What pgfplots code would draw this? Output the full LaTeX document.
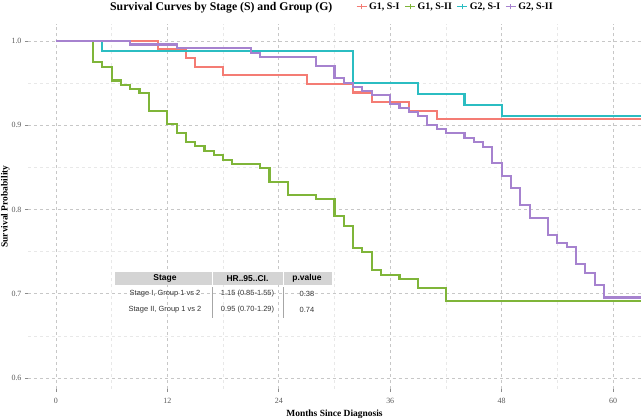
\documentclass[border=0pt]{standalone}
\usepackage{pgfplots}
\pgfplotsset{compat=1.18}
\usepackage{fontspec}
\setmainfont{Liberation Serif}
\newfontfamily\arial{Liberation Sans}
\definecolor{cRed}{HTML}{F47C74}
\definecolor{cGreen}{HTML}{7FB539}
\definecolor{cCyan}{HTML}{2BBDC2}
\definecolor{cPurple}{HTML}{A682CF}
\definecolor{hdr}{HTML}{D4D4D4}
\begin{document}
\begin{tikzpicture}[x=1bp,y=1bp]
\begin{axis}[
  at={(0,0)}, anchor=south west,
  scale only axis, width=613bp, height=365bp,
  xmin=-3, xmax=63, ymin=0.587, ymax=1.02,
  axis line style={draw=none},
  xtick={0,12,24,36,48,60}, ytick={0.6,0.7,0.8,0.9,1.0},
  minor xtick={6,18,30,42,54}, minor ytick={0.65,0.75,0.85,0.95},
  xtick pos=bottom, ytick pos=left,
  grid=both,
  major grid style={dashed, color=black!22, line width=0.6bp},
  minor grid style={dashed, color=black!9, line width=0.5bp},
  tick align=outside, major tick length=3bp, minor tick length=0pt,
  tick style={color=black!45, line width=0.6bp, solid},
  ticklabel style={font=\fontsize{8}{9}\selectfont, text=black!65},
  xticklabel style={yshift=-3bp},
  /pgf/number format/assume math mode=true,
  yticklabel style={/pgf/number format/fixed, /pgf/number format/fixed zerofill, /pgf/number format/precision=1},
  xlabel={Months Since Diagnosis},
  ylabel={Survival Probability},
  label style={font=\bfseries\fontsize{9.5}{11}\selectfont},
  xlabel style={at={(axis description cs:0.5,-0.068)}, anchor=center},
  ylabel style={at={(axis description cs:-0.037,0.5)}, anchor=center},
  legend style={at={(axis description cs:0.535,1.048)}, anchor=west, draw=none, fill=none,
    font=\bfseries\fontsize{10}{12}\selectfont, inner sep=0pt,
    /tikz/every even column/.append style={column sep=3bp}},
  legend columns=4,
  legend image code/.code={\draw[#1, line width=1bp] (0bp,0bp) -- (10bp,0bp); \draw[#1, line width=1bp] (5bp,-2.8bp) -- (5bp,2.8bp);},
  every axis plot/.append style={line width=2.1bp, line join=miter},
]
\addplot[const plot, color=cRed] coordinates {
(0,1.0) (11,0.9905) (14,0.9795) (15,0.9695) (18,0.959) (27,0.9486) (32,0.9387) (34,0.928) (38,0.9173) (41,0.907) (63,0.907)};
\addlegendentry{G1, S-I}
\addplot[const plot, color=cGreen] coordinates {
(0,1.0) (4,0.9747) (5,0.9695) (6,0.953) (7,0.948) (8,0.943) (9,0.938) (10,0.917) (12,0.901) (13,0.8905) (14,0.880) (15,0.875) (16,0.8695) (17,0.8644) (18,0.859) (19,0.854) (22,0.849) (23,0.833) (25,0.817) (28,0.812) (30,0.792) (31,0.7806) (32,0.754) (33,0.749) (34,0.728) (35,0.722) (37,0.717) (39,0.707) (42,0.6916) (63,0.6916)};
\addlegendentry{G1, S-II}
\addplot[const plot, color=cCyan] coordinates {
(0,1.0) (5,0.9877) (32,0.9498) (39,0.9368) (44,0.9237) (48,0.9107) (63,0.9107)};
\addlegendentry{G2, S-I}
\addplot[const plot, color=cPurple] coordinates {
(0,1.0) (8,0.9957) (13,0.991) (21,0.9854) (22,0.9807) (28,0.9703) (30,0.9558) (31,0.9505) (32,0.945) (33,0.9407) (34,0.9356) (36,0.9256) (37,0.920) (38,0.9154) (39,0.9107) (40,0.900) (41,0.895) (42,0.8905) (44,0.885) (45,0.880) (46,0.8746) (47,0.855) (48,0.840) (49,0.825) (50,0.8055) (51,0.790) (53,0.770) (54,0.760) (55,0.755) (56,0.735) (57,0.7244) (58,0.710) (59,0.6955) (63,0.6955)};
\addlegendentry{G2, S-II}
\end{axis}
% title
\node[anchor=base west, font=\bfseries\fontsize{11.8}{13}\selectfont, inner sep=0pt] at (82,379) {Survival Curves by Stage (S) and Group (G)};
% inset table
\fill[hdr] (87,104) rectangle (304,117);
\draw[white, line width=0.8bp] (184,104) -- (184,117) (255,104) -- (255,117);
\draw[black!35, line width=0.5bp] (184,102) -- (184,71) (255,102) -- (255,71);
\begin{scope}[every node/.style={inner sep=0pt, anchor=center}]
\node[font=\arial\bfseries\fontsize{8.5}{9}\selectfont] at (137,110.5) {Stage};
\node[font=\arial\bfseries\fontsize{8.5}{9}\selectfont] at (219.5,110.5) {HR..95..CI.};
\node[font=\arial\bfseries\fontsize{8.5}{9}\selectfont] at (279,110.5) {p.value};
\node[font=\arial\fontsize{7.5}{9}\selectfont, text=black!80] at (137,95) {Stage I, Group 1 vs 2};
\node[font=\arial\fontsize{7.5}{9}\selectfont, text=black!80] at (219.5,95) {1.15 (0.85-1.55)};
\node[font=\arial\fontsize{7.5}{9}\selectfont, text=black!80] at (279,95) {0.38};
\node[font=\arial\fontsize{7.5}{9}\selectfont, text=black!80] at (137,79) {Stage II, Group 1 vs 2};
\node[font=\arial\fontsize{7.5}{9}\selectfont, text=black!80] at (219.5,79) {0.95 (0.70-1.29)};
\node[font=\arial\fontsize{7.5}{9}\selectfont, text=black!80] at (279,79) {0.74};
\end{scope}
\pgfresetboundingbox
\path[use as bounding box] (-28,-30) rectangle (613,389);
\end{tikzpicture}
\end{document}
